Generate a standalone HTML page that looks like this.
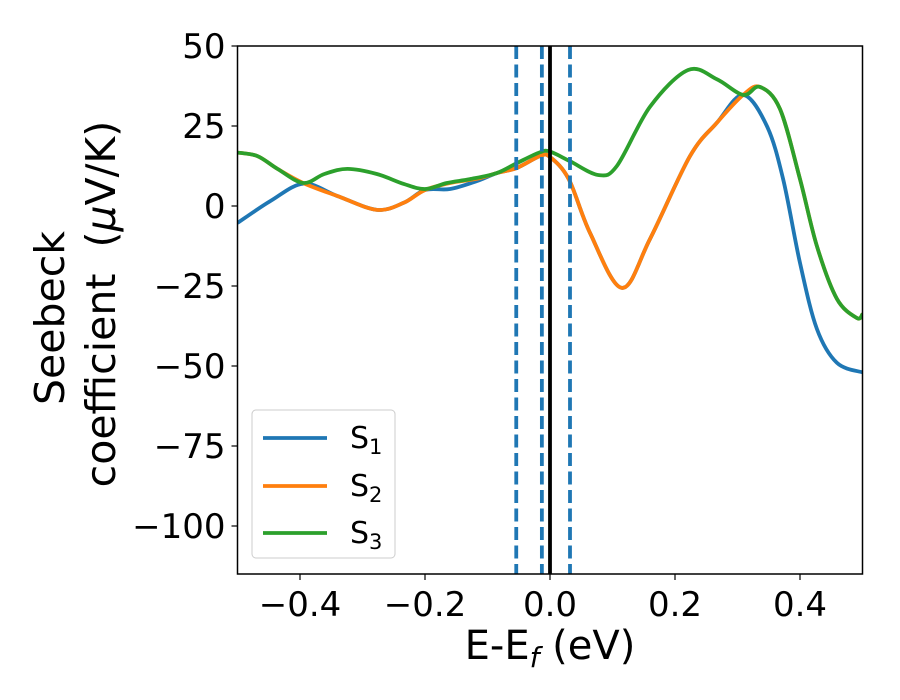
<!DOCTYPE html>
<html><head><meta charset="utf-8"><style>
body{margin:0;background:#fff}
svg{font-family:"DejaVu Sans","Liberation Sans",sans-serif}
</style></head><body>
<svg id="chart" width="900" height="700" style="position:absolute;left:0;top:0">
<rect width="900" height="700" fill="#fff"/>
<g id="plot"></g>
</svg>
<script>
const xTicks=[-0.4,-0.2,0.0,0.2,0.4];
const xTickLabels=["\u22120.4","\u22120.2","0.0","0.2","0.4"];
const yTicks=[50,25,0,-25,-50,-75,-100];
const yTickLabels=["50","25","0","\u221225","\u221250","\u221275","\u2212100"];
const s1E=[-0.5,-0.447,-0.394,-0.34,-0.277,-0.234,-0.2,-0.16,-0.117,-0.085,-0.053,-0.016,0,0.03,0.064,0.115,0.16,0.224,0.267,0.309,0.347,0.373,0.4,0.427,0.459,0.5];
const s1V=[-5.3,1.6,7,3.1,-1.2,1,5,5.3,7.8,10.3,11.9,15.6,15.3,8.4,-8.4,-25.6,-10.3,15.6,26,34.7,25,8.4,-17.8,-38.4,-49,-52];
const s2E=[-0.5,-0.468,-0.436,-0.395,-0.34,-0.277,-0.234,-0.2,-0.16,-0.117,-0.085,-0.053,-0.016,0,0.03,0.064,0.115,0.16,0.224,0.267,0.309,0.336,0.368,0.4,0.427,0.459,0.491,0.5];
const s2V=[16.7,15.6,11.6,7.2,3.1,-1.2,1,5,7.2,8.5,10.3,11.9,15.6,15.3,8.4,-8.4,-25.6,-10.3,15.6,26,34.7,37.2,30.3,8.4,-12.5,-29,-35,-33.8];
const s3E=[-0.5,-0.468,-0.436,-0.395,-0.361,-0.324,-0.277,-0.234,-0.2,-0.165,-0.128,-0.085,-0.053,-0.016,0,0.032,0.077,0.107,0.16,0.221,0.267,0.309,0.336,0.368,0.4,0.427,0.459,0.491,0.5];
const s3V=[16.7,15.6,11.6,7.2,10,11.6,10,6.9,5.3,7.2,8.4,10.3,13.4,16.8,17,14,9.7,12.5,31,42.5,39.6,34.7,37.2,30.3,8.4,-12.5,-29,-35,-33.8];
const vLinesDashed=[-0.054,-0.013,0.032];
const vLineSolid=[0];

const X0=237.5,X1=862.5,Y0=46,Y1=574;
const xS=e=>X0+(e+0.5)/1.0*(X1-X0);
const yS=v=>Y0+(50-v)/165*(Y1-Y0);
const NS="http://www.w3.org/2000/svg";
const g=document.getElementById('plot');
function mk(t,a,p){const e=document.createElementNS(NS,t);for(const k in a)e.setAttribute(k,a[k]);(p||g).appendChild(e);return e;}
function path(E,V){
  const P=E.map((e,i)=>[xS(e),yS(V[i])]);
  let d=`M${P[0][0]},${P[0][1]}`;
  for(let i=0;i<P.length-1;i++){
    const p0=P[i-1]||P[i],p1=P[i],p2=P[i+1],p3=P[i+2]||P[i+1];
    const c1=[p1[0]+(p2[0]-p0[0])/6,p1[1]+(p2[1]-p0[1])/6];
    const c2=[p2[0]-(p3[0]-p1[0])/6,p2[1]-(p3[1]-p1[1])/6];
    d+=` C${c1[0]},${c1[1]} ${c2[0]},${c2[1]} ${p2[0]},${p2[1]}`;
  }
  return d;
}
const clip=mk('clipPath',{id:'cp'});mk('rect',{x:X0,y:Y0,width:X1-X0,height:Y1-Y0},clip);
const series=[[s1E,s1V,'#1f77b4','series-s1'],[s2E,s2V,'#ff7f0e','series-s2'],[s3E,s3V,'#2ca02c','series-s3']];
series.forEach(s=>{
  const p=mk('path',{d:path(s[0],s[1]),fill:'none',stroke:s[2],'stroke-width':3.8,'clip-path':'url(#cp)'});
  
  
});
vLinesDashed.forEach(v=>{
  const l=mk('line',{x1:xS(v),x2:xS(v),y1:Y0,y2:Y1,stroke:'#1f77b4','stroke-width':3.8,'stroke-dasharray':'13 5.5'});
  
  
});
vLineSolid.forEach(v=>{
  const l=mk('line',{x1:xS(v),x2:xS(v),y1:Y0,y2:Y1,stroke:'#000','stroke-width':3.8});
  
  
});
const fr=mk('rect',{x:X0,y:Y0,width:X1-X0,height:Y1-Y0,fill:'none',stroke:'#000','stroke-width':1.5});


xTicks.forEach((t,i)=>{
  mk('line',{x1:xS(t),x2:xS(t),y1:Y1,y2:Y1+6,stroke:'#000','stroke-width':1.2});
  const tx=mk('text',{x:xS(t),y:Y1+42,'text-anchor':'middle','font-size':34});
  tx.textContent=xTickLabels[i];
  
  
});
yTicks.forEach((t,i)=>{
  mk('line',{x1:X0-6,x2:X0,y1:yS(t),y2:yS(t),stroke:'#000','stroke-width':1.2});
  const tx=mk('text',{x:X0-12,y:yS(t)+12,'text-anchor':'end','font-size':34});
  tx.textContent=yTickLabels[i];
  
  
});
</script>
<svg style="position:absolute;left:0;top:0" width="900" height="700">
<text x="550" y="659" text-anchor="middle" font-size="40">E-E<tspan font-size="28" font-style="italic" dy="8">f</tspan><tspan dy="-8"> (eV)</tspan></text>
<g font-size="41">
<text transform="translate(64,318) rotate(-90)" text-anchor="middle">Seebeck</text>
<text transform="translate(115,304) rotate(-90)" text-anchor="middle" xml:space="preserve">coefficient  (<tspan font-style="italic">μ</tspan>V/K)</text>
</g>
<g>
<rect x="252" y="410" width="143" height="148" rx="4" fill="#fff" fill-opacity="0.8" stroke="#ccc"/>
<g><line x1="263" x2="327" y1="438" y2="438" stroke="#1f77b4" stroke-width="3.8"/><text x="350" y="448" font-size="30">S<tspan font-size="21" dy="6">1</tspan></text></g>
<g><line x1="263" x2="327" y1="486" y2="486" stroke="#ff7f0e" stroke-width="3.8"/><text x="350" y="496" font-size="30">S<tspan font-size="21" dy="6">2</tspan></text></g>
<g><line x1="263" x2="327" y1="533" y2="533" stroke="#2ca02c" stroke-width="3.8"/><text x="350" y="543" font-size="30">S<tspan font-size="21" dy="6">3</tspan></text></g>
</g>
</svg>
</body></html>
